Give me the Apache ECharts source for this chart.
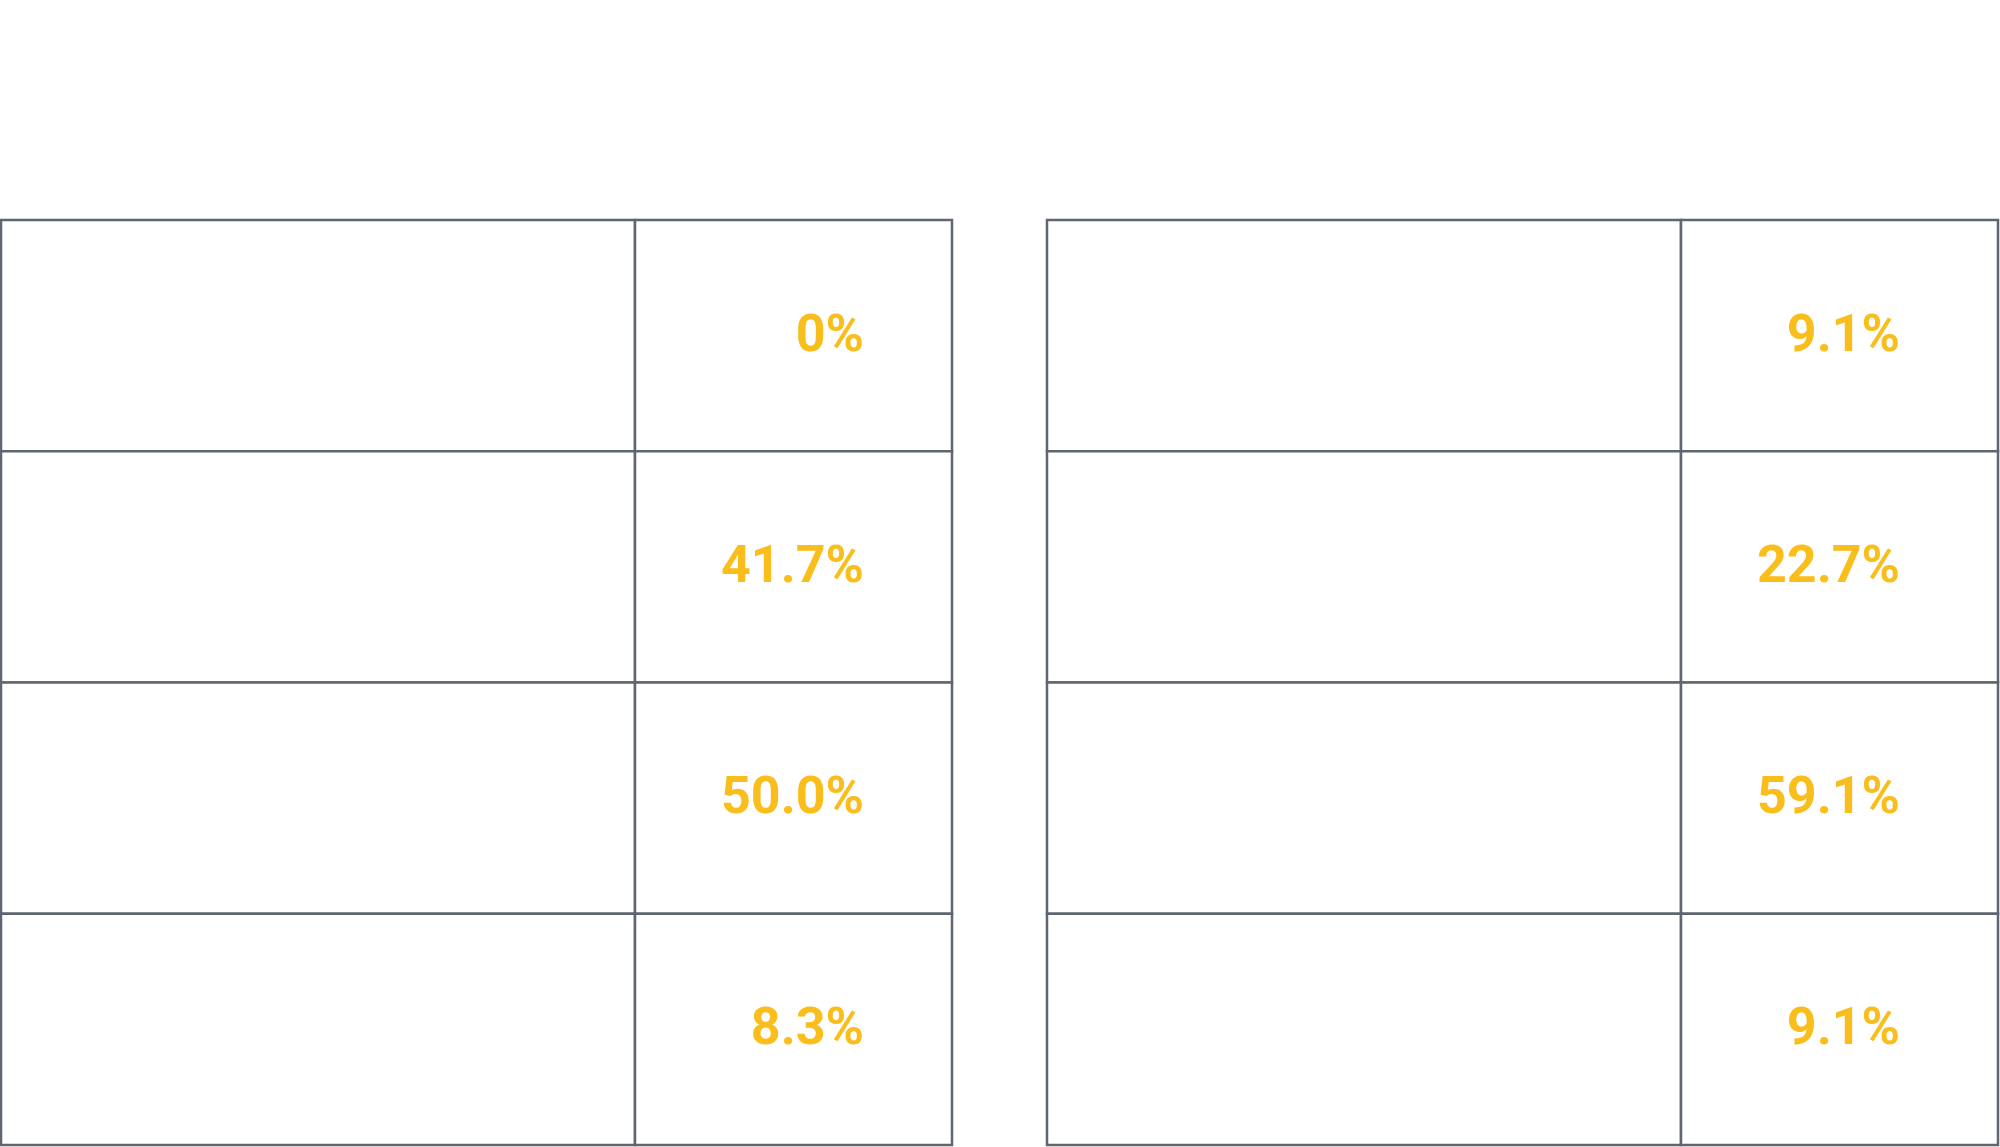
<!DOCTYPE html>
<html><head><meta charset="utf-8">
<script src="https://cdn.jsdelivr.net/npm/echarts@6/dist/echarts.min.js"></script>
<style>html,body{margin:0;padding:0;background:#fff}#c{width:2000px;height:1147px}</style>
</head><body><div id="c"></div>
<script>
const rows = ['r1','r2','r3','r4'];
const leftValues = ['0%','41.7%','50.0%','8.3%'];
const rightValues = ['9.1%','22.7%','59.1%','9.1%'];

const chart = echarts.init(document.getElementById('c'));
const lineColor = '#5f6670';
const textColor = '#F9BE1C';
const pads = [88, 98];

function cellData(values){
  const d = [];
  values.forEach((v,i)=>{ d.push([0,2,i,'']); d.push([2,3,i,v]); });
  return d;
}
function render(params, api){
  const x0 = api.value(0), x1 = api.value(1), r = api.value(2);
  const p0 = api.coord([x0, r]);
  const p1 = api.coord([x1, r]);
  const h = api.size([0,1])[1];
  const text = params.seriesIndex === 0 ? leftValues[r] : rightValues[r];
  const isVal = x0 === 2;
  const children = [{
    type:'rect',
    shape:{x:p0[0], y:p0[1]-h/2, width:p1[0]-p0[0], height:h},
    style:{fill:'#fff', stroke:lineColor, lineWidth:2.5}
  }];
  if(isVal){
    children.push({
      type:'text',
      style:{x:p1[0]-pads[params.seriesIndex], y:p0[1]+2, text:text, fill:textColor, align:'right', verticalAlign:'middle',
        font:'bold 52px Roboto'}
    });
  }
  return {type:'group', children};
}
const grids = [
  {left:1, top:220, width:951, height:925},
  {left:1047, top:220, width:951, height:925}
];
chart.setOption({
  animation:false,
  grid: grids,
  xAxis: grids.map((g,i)=>({type:'value', gridIndex:i, min:0, max:3, show:false})),
  yAxis: grids.map((g,i)=>({type:'category', gridIndex:i, data:rows, inverse:true, show:false})),
  series: [leftValues, rightValues].map((vals,i)=>({
    type:'custom', xAxisIndex:i, yAxisIndex:i, renderItem:render, data:cellData(vals)
  }))
});
</script></body></html>
